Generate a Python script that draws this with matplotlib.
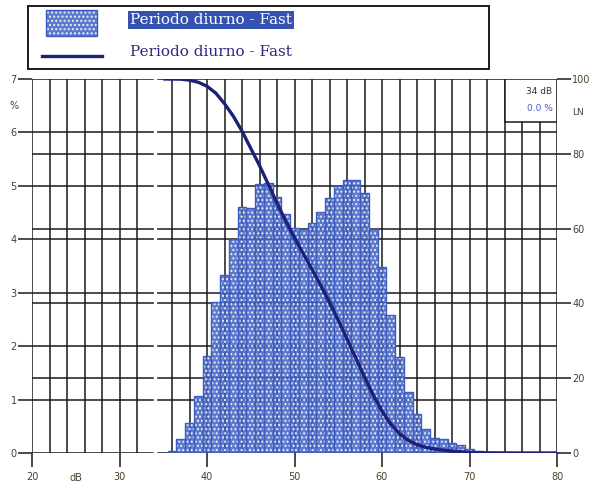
import matplotlib
matplotlib.use("Agg")
import matplotlib.pyplot as plt
from matplotlib.patches import Rectangle

# Level distribution (1 dB classes) - percentage of time
levels_db = [36, 37, 38, 39, 40, 41, 42, 43, 44, 45, 46, 47, 48, 49, 50, 51, 52, 53,
             54, 55, 56, 57, 58, 59, 60, 61, 62, 63, 64, 65, 66, 67, 68, 69, 70, 71, 72]
time_pct = [0.04, 0.26, 0.57, 1.07, 1.82, 2.83, 3.33, 4.01, 4.61, 4.58, 5.03, 5.05,
            4.80, 4.47, 4.22, 4.19, 4.30, 4.52, 4.77, 5.00, 5.11, 5.11, 4.87, 4.20,
            3.48, 2.58, 1.80, 1.14, 0.73, 0.45, 0.29, 0.26, 0.19, 0.15, 0.08, 0.04, 0.02]

# Cumulative exceedance curve LN (% of time above level)
ln_db = [35, 36, 37, 38, 39, 40, 41, 42, 43, 44, 45, 46, 47, 48, 49, 50, 51, 52, 53,
         54, 55, 56, 57, 58, 59, 60, 61, 62, 63, 64, 65, 66, 67, 68, 69, 70, 71, 72,
         74, 76, 78, 80]
ln_pct = [100.0, 100.0, 99.96, 99.7, 99.13, 98.06, 96.24, 93.41, 90.08, 86.07, 81.46,
          76.88, 71.85, 66.8, 62.0, 57.53, 53.31, 49.12, 44.82, 40.3, 35.53, 30.53,
          25.42, 20.31, 15.44, 11.24, 7.76, 5.18, 3.38, 2.24, 1.51, 1.06, 0.77, 0.51,
          0.32, 0.17, 0.09, 0.05, 0.02, 0.01, 0.0, 0.0]

x_ticks = [20, 30, 40, 50, 60, 70, 80]
x_tick_labels = ["20", "30", "40", "50", "60", "70", "80"]
y_left_ticks = [0, 1, 2, 3, 4, 5, 6, 7]
y_right_ticks = [0, 20, 40, 60, 80, 100]
v_grid = [v for v in range(20, 81, 2) if v != 34]
min_level_db = 34
summary_lines = ["34 dB", "0.0 %"]
series_label = "Periodo diurno - Fast"

W, H = 596, 494
fig = plt.figure(figsize=(W / 100, H / 100), dpi=100)
fig.patch.set_facecolor("white")

L, R, T, B = 32, 557, 79, 453
ax = fig.add_axes([L / W, 1 - B / H, (R - L) / W, (B - T) / H])
ax2 = ax.twinx()

grid_c = "#1a1a1a"
tick_c = "#4e3e2a"
bar_face = "#4260c2"
bar_edge = "#3d5cc2"
line_c = "#1c2078"

ax.set_xlim(20, 80)
ax.set_ylim(0, 7)
ax2.set_ylim(0, 100)

for a in (ax, ax2):
    for s in a.spines.values():
        s.set_visible(False)

# grid
ax.vlines(v_grid, 0, 7, color=grid_c, lw=1.1, zorder=0.5)
ax.hlines(y_left_ticks, 20, 80, color=grid_c, lw=1.1, zorder=0.5)
ax.hlines(y_right_ticks[1:-1], 20, 80, color=grid_c, lw=1.1, zorder=0.5,
          transform=ax2.transData)
ax.axvline(min_level_db, color="white", lw=2.4, zorder=0.6)

# histogram
ax.bar(levels_db, time_pct, width=1.0, color=bar_face, edgecolor="white",
       hatch="....", lw=0, alpha=0.85, zorder=2)
ax.bar(levels_db, time_pct, width=1.0, fill=False, edgecolor=bar_edge,
       lw=1.0, zorder=2.1)

# cumulative curve
ax2.plot(ln_db, ln_pct, color=line_c, lw=2.4, zorder=3, solid_capstyle="butt")

# summary box in the top right corner
ax2.add_patch(Rectangle((74, 88.4), 6, 11.6, facecolor="white",
                        edgecolor=grid_c, lw=1.1, zorder=4))
ax2.text(79.5, 96.6, summary_lines[0], ha="right", va="center", fontsize=6.5,
         color="#3a3020", zorder=5)
ax2.text(79.5, 92.0, summary_lines[1], ha="right", va="center", fontsize=6.5,
         color="#4a58c0", zorder=5)

# ticks
ax.set_yticks(y_left_ticks)
ax.set_yticklabels([str(v) for v in y_left_ticks])
ax.tick_params(axis="y", direction="out", length=10, width=1.1, color=grid_c,
               labelsize=7, labelcolor=tick_c, pad=1)
ax.set_xticks(x_ticks)
ax.set_xticklabels(x_tick_labels)
ax.tick_params(axis="x", direction="out", length=10, width=1.1, color=grid_c,
               labelsize=7, labelcolor=tick_c, pad=4)
ax2.set_yticks(y_right_ticks)
ax2.set_yticklabels([str(v) for v in y_right_ticks])
ax2.tick_params(axis="y", direction="out", length=10, width=1.1, color=grid_c,
                labelsize=7, labelcolor=tick_c, pad=1)

ax.text(25, -0.47, "dB", ha="center", va="center", fontsize=7, color=tick_c,
        clip_on=False)
ax.text(-0.035, 6.5, "%", transform=ax.get_yaxis_transform(), ha="center",
        va="center", fontsize=7, color=tick_c, clip_on=False)
ax2.text(1.04, 91, "LN", transform=ax2.get_yaxis_transform(), ha="center",
         va="center", fontsize=6.5, color=tick_c, clip_on=False)

# legend panel (pixel coordinates)
lg = fig.add_axes([0, 0, 1, 1], zorder=10)
lg.set_xlim(0, W)
lg.set_ylim(H, 0)
lg.axis("off")
lg.patch.set_alpha(0)
lg.add_patch(Rectangle((28, 6), 461, 63, facecolor="white", edgecolor="#1a1a1a",
                       lw=1.4))
lg.add_patch(Rectangle((46, 10), 51, 26, facecolor=bar_face, edgecolor="white",
                       hatch="....", lw=0, alpha=0.85))
lg.add_patch(Rectangle((46, 10), 51, 26, fill=False, edgecolor=bar_edge, lw=1.0))
lg.text(130, 20, series_label, ha="left", va="center", fontsize=11,
        family="DejaVu Serif", color="white",
        bbox=dict(boxstyle="square,pad=0.12", facecolor="#3552b0", edgecolor="none"))
lg.plot([42, 102], [56, 56], color=line_c, lw=2.4)
lg.text(130, 52, series_label, ha="left", va="center", fontsize=11,
        family="DejaVu Serif", color="#2a2a80")

fig.savefig("out.png", dpi=100, facecolor="white")
